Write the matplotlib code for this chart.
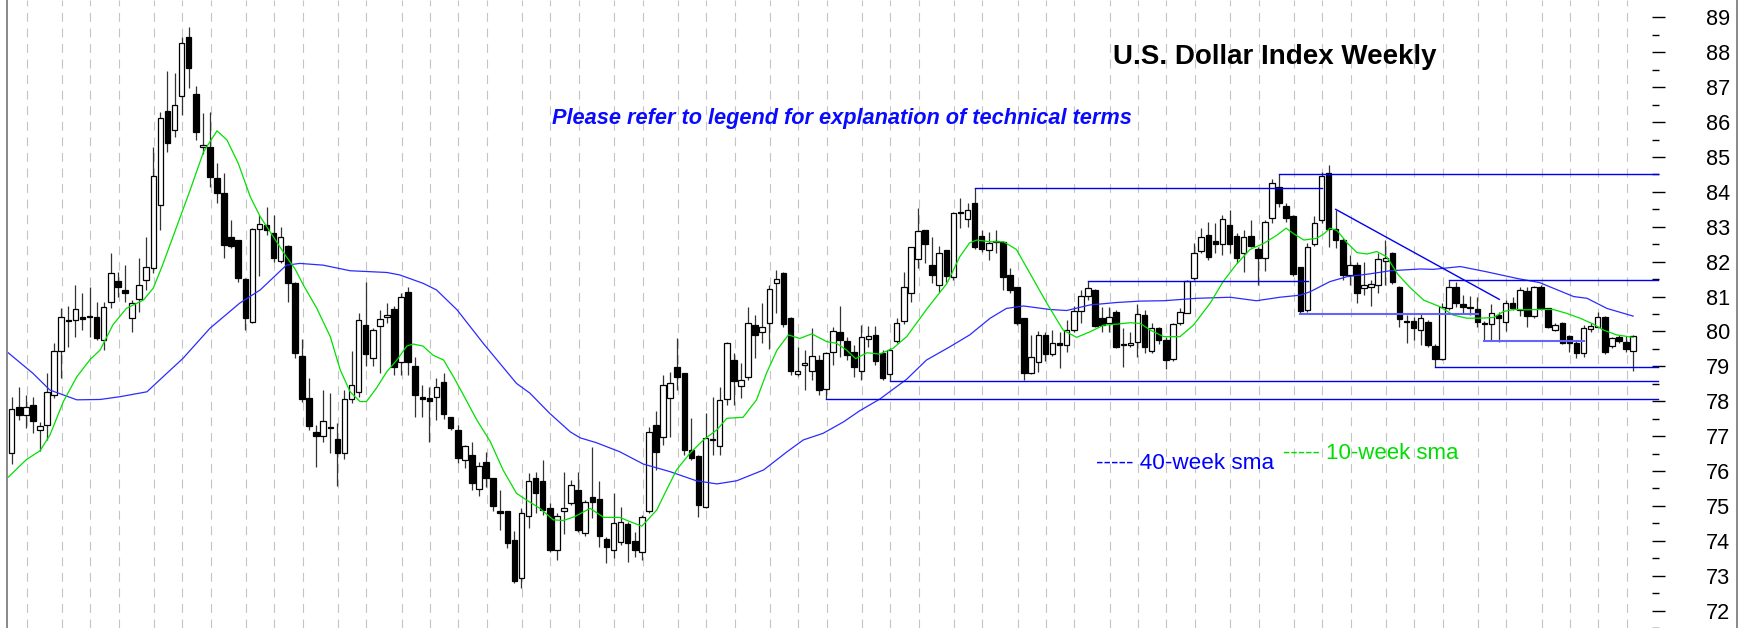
import matplotlib
matplotlib.use("Agg")
import matplotlib.pyplot as plt
import numpy as np
from matplotlib.lines import Line2D

# weekly candles (open, high, low, close)
opens = [76.51, 77.84, 77.61, 77.89, 77.18, 77.32, 78.18, 79.45, 80.33, 80.33,
         80.40, 80.40, 80.40, 79.75, 80.83, 81.45, 81.19, 80.38, 80.93, 81.47,
         81.83, 83.62, 86.33, 85.77, 86.75, 88.43, 86.81, 85.28, 85.30, 84.39,
         83.98, 82.70, 82.62, 81.49, 80.28, 82.93, 83.05, 82.81, 82.03, 82.46,
         81.40, 79.30, 78.08, 77.13, 77.00, 77.25, 76.91, 76.51, 78.06, 78.27,
         80.18, 79.23, 80.16, 80.40, 80.63, 79.13, 81.14, 79.01, 78.11, 78.09,
         78.13, 78.56, 77.54, 77.18, 76.32, 76.46, 75.48, 76.27, 75.79, 74.86,
         74.84, 74.02, 72.92, 74.71, 75.79, 75.70, 74.93, 73.74, 74.86, 75.09,
         75.45, 74.21, 75.26, 75.19, 74.04, 73.75, 73.97, 74.48, 74.00, 73.69,
         74.84, 77.32, 76.98, 78.08, 78.99, 78.80, 76.60, 76.43, 74.98, 76.89,
         76.72, 78.05, 79.18, 78.44, 78.68, 80.18, 79.99, 80.25, 81.38, 81.67,
         80.38, 78.78, 79.04, 78.88, 79.18, 78.34, 79.42, 79.99, 79.73, 79.40,
         78.88, 79.78, 79.90, 79.39, 78.78, 79.74, 80.31, 81.09, 82.07, 82.91,
         81.91, 81.33, 82.33, 81.55, 83.39, 83.21, 83.69, 82.74, 82.33, 82.58,
         82.57, 81.62, 81.28, 80.38, 78.82, 79.13, 79.90, 79.35, 79.66, 79.61,
         80.04, 80.60, 81.02, 81.19, 80.38, 80.23, 80.55, 79.64, 79.61, 79.69,
         80.47, 79.45, 80.09, 79.75, 79.20, 80.23, 80.54, 81.52, 82.31, 82.76,
         82.60, 82.51, 83.05, 82.74, 82.24, 82.74, 82.35, 82.10, 83.24, 84.15,
         83.59, 83.31, 81.84, 80.61, 82.52, 83.18, 84.53, 82.93, 82.62, 81.62,
         81.90, 81.24, 81.28, 81.33, 82.03, 82.24, 81.27, 80.31, 80.31, 80.04,
         80.28, 79.59, 79.20, 80.66, 81.26, 80.80, 80.68, 80.63, 80.24, 80.21,
         80.47, 80.28, 80.82, 80.62, 81.17, 80.44, 81.28, 80.66, 80.04, 80.25,
         79.87, 79.66, 79.39, 80.06, 80.14, 80.42, 79.58, 79.85, 79.71, 79.45]
highs = [78.11, 78.42, 78.18, 78.13, 77.41, 78.80, 79.66, 80.66, 80.73, 81.33,
         81.11, 81.28, 80.85, 80.85, 82.24, 81.71, 81.90, 80.90, 82.10, 82.70,
         85.30, 86.30, 87.47, 87.40, 88.45, 88.74, 87.04, 86.25, 86.30, 84.82,
         84.55, 83.19, 82.62, 81.52, 82.96, 83.35, 83.56, 83.34, 83.00, 82.48,
         81.43, 79.77, 78.66, 77.32, 78.32, 78.23, 77.37, 78.32, 79.45, 80.52,
         81.43, 80.09, 80.62, 80.82, 80.73, 81.09, 81.28, 79.28, 78.47, 78.42,
         78.66, 78.82, 77.56, 77.32, 76.75, 76.84, 76.27, 76.55, 75.81, 75.46,
         74.86, 74.29, 74.93, 75.93, 75.98, 76.32, 75.07, 74.79, 75.98, 75.74,
         75.98, 75.17, 76.70, 75.70, 74.12, 75.36, 74.98, 74.55, 74.26, 74.74,
         77.27, 77.73, 78.75, 78.85, 79.80, 78.80, 77.51, 76.46, 77.65, 78.13,
         78.42, 79.71, 79.37, 79.09, 80.71, 80.47, 80.82, 81.33, 81.76, 81.71,
         80.40, 79.54, 79.47, 80.09, 79.32, 79.42, 80.14, 80.73, 79.85, 79.61,
         80.18, 80.15, 80.16, 79.47, 79.52, 80.38, 81.71, 82.43, 83.53, 82.91,
         82.70, 82.45, 82.33, 83.41, 83.82, 83.67, 84.10, 82.91, 82.86, 82.91,
         82.60, 81.81, 81.28, 80.38, 79.90, 80.00, 79.97, 80.04, 79.99, 80.33,
         80.73, 81.19, 81.45, 81.21, 80.71, 80.71, 80.61, 80.09, 79.99, 80.80,
         80.61, 80.23, 80.14, 79.85, 80.25, 80.66, 81.47, 82.53, 82.96, 83.15,
         83.10, 83.34, 83.48, 82.83, 82.91, 83.19, 82.43, 83.19, 84.36, 84.50,
         83.67, 83.34, 81.86, 82.53, 83.31, 84.58, 84.77, 83.48, 82.67, 82.19,
         82.00, 82.00, 81.47, 82.24, 82.62, 82.29, 81.30, 80.47, 80.42, 80.52,
         80.33, 79.64, 80.81, 81.48, 81.43, 81.04, 81.02, 80.98, 80.30, 80.79,
         80.57, 80.90, 80.99, 81.27, 81.27, 81.30, 81.33, 80.66, 80.24, 80.28,
         79.90, 79.75, 80.18, 80.25, 80.57, 80.44, 79.83, 79.90, 79.87, 79.90]
lows = [76.20, 77.46, 77.22, 77.08, 76.58, 76.89, 78.08, 78.66, 79.56, 79.85,
        80.04, 79.85, 79.75, 79.47, 80.66, 80.99, 80.85, 79.99, 80.57, 81.19,
        81.67, 82.91, 85.15, 85.58, 86.20, 86.97, 85.49, 85.10, 84.15, 83.67,
        82.10, 82.38, 81.43, 80.04, 80.23, 81.60, 82.76, 82.00, 81.95, 80.85,
        79.23, 77.99, 77.17, 76.11, 76.84, 76.51, 75.57, 76.34, 77.95, 78.13,
        79.01, 79.01, 78.80, 80.23, 78.75, 78.75, 78.75, 77.56, 77.56, 76.84,
        77.46, 77.48, 77.17, 76.22, 76.08, 75.46, 75.28, 75.55, 74.86, 74.31,
        73.79, 72.78, 72.64, 74.36, 74.79, 74.74, 73.69, 73.45, 74.19, 75.03,
        74.26, 74.15, 74.64, 73.83, 73.35, 73.50, 73.88, 73.40, 73.54, 73.45,
        74.79, 76.03, 76.74, 76.98, 78.32, 76.46, 76.31, 74.69, 74.93, 76.46,
        76.46, 77.89, 77.89, 78.08, 78.61, 79.23, 79.68, 79.49, 80.52, 80.14,
        78.75, 78.72, 78.32, 78.61, 78.18, 78.06, 79.04, 79.28, 79.18, 78.70,
        78.61, 79.55, 79.04, 78.61, 78.58, 79.66, 80.21, 80.85, 81.81, 81.97,
        81.38, 81.14, 81.43, 81.48, 82.96, 82.98, 82.35, 82.29, 82.05, 82.24,
        81.19, 81.09, 80.18, 78.60, 78.78, 78.85, 79.16, 79.30, 78.94, 79.42,
        79.99, 80.23, 80.90, 80.14, 79.99, 79.99, 79.52, 78.99, 79.56, 79.28,
        79.37, 79.37, 79.64, 78.91, 79.16, 80.18, 80.52, 81.47, 82.24, 82.05,
        82.24, 82.19, 82.24, 81.97, 81.71, 82.43, 81.33, 81.74, 83.12, 83.58,
        83.15, 81.59, 80.50, 80.56, 82.45, 83.12, 82.43, 82.38, 81.47, 81.33,
        80.82, 81.04, 80.74, 81.09, 81.33, 81.36, 80.12, 79.66, 79.76, 79.61,
        79.56, 78.97, 79.18, 80.61, 80.71, 80.52, 80.47, 80.14, 79.74, 79.74,
        79.71, 80.00, 80.61, 80.43, 80.14, 80.38, 80.61, 80.09, 80.00, 79.64,
        79.42, 79.23, 79.28, 79.99, 80.12, 79.35, 79.52, 79.66, 79.42, 78.88]
closes = [77.77, 77.61, 77.84, 77.44, 77.29, 78.25, 79.45, 80.42, 80.30, 80.63,
          80.35, 80.42, 79.80, 80.71, 81.67, 81.26, 81.09, 80.81, 81.33, 81.86,
          84.46, 86.11, 85.39, 86.49, 88.26, 87.54, 85.71, 85.33, 84.44, 83.96,
          82.48, 82.45, 81.52, 80.38, 82.93, 83.07, 82.91, 82.10, 82.70, 81.38,
          79.37, 78.06, 77.29, 77.00, 77.43, 77.24, 76.51, 78.06, 78.47, 80.33,
          79.35, 80.04, 80.35, 80.47, 78.99, 80.99, 79.13, 78.18, 78.06, 78.02,
          78.42, 77.63, 77.24, 76.36, 76.73, 75.67, 76.15, 75.79, 74.99, 74.79,
          73.93, 72.86, 74.79, 75.70, 75.38, 74.88, 73.74, 74.71, 74.93, 75.60,
          74.31, 75.12, 75.12, 74.14, 73.83, 74.52, 74.55, 73.95, 73.74, 74.69,
          77.13, 76.55, 78.46, 78.51, 78.70, 76.60, 76.36, 75.03, 76.94, 76.91,
          78.04, 79.66, 78.59, 78.61, 80.23, 79.90, 80.14, 81.23, 81.49, 80.21,
          78.88, 78.88, 79.09, 79.30, 78.32, 79.37, 80.02, 79.76, 79.33, 78.97,
          79.85, 79.86, 79.16, 78.66, 79.47, 80.23, 81.28, 82.41, 82.89, 82.51,
          81.62, 82.24, 81.59, 83.39, 83.40, 83.48, 82.43, 82.35, 82.54, 82.57,
          81.57, 81.19, 80.23, 78.82, 79.28, 79.90, 79.35, 79.66, 79.61, 80.04,
          80.60, 81.02, 81.24, 80.16, 80.19, 80.40, 79.54, 79.61, 79.68, 80.50,
          79.54, 80.09, 79.75, 79.18, 80.20, 80.57, 81.45, 82.26, 82.70, 82.12,
          82.52, 83.21, 82.51, 82.10, 82.72, 82.45, 82.10, 83.15, 84.25, 83.69,
          83.24, 81.65, 80.60, 82.41, 83.12, 84.45, 82.95, 82.62, 81.62, 81.90,
          81.11, 81.33, 81.35, 82.08, 82.10, 81.43, 80.36, 80.26, 80.11, 80.38,
          79.61, 79.20, 80.71, 81.26, 80.82, 80.69, 80.70, 80.28, 80.22, 80.54,
          80.38, 80.82, 80.66, 81.19, 80.44, 81.28, 80.66, 80.14, 80.19, 79.68,
          79.66, 79.39, 80.09, 80.16, 80.41, 79.42, 79.80, 79.74, 79.49, 79.87]

# 40-week simple moving average (week index, value)
sma40_week = [-0.5, 3.0, 5.4, 9.2, 12.5, 15.3, 19.1, 20.9, 24.2, 28.0, 32.2, 35.1,
              38.8, 40.7, 44.0, 47.8, 53.0, 54.8, 58.1, 60.0, 62.9, 66.6, 71.3,
              73.2, 76.0, 78.9, 80.3, 82.6, 85.9, 89.2, 93.0, 96.7, 99.6, 102.4,
              106.2, 109.5, 111.8, 114.6, 117.5, 119.8, 122.6, 126.4, 129.2, 132.5,
              135.3, 138.2, 140.5, 142.9, 146.6, 149.0, 152.3, 156.1, 159.4, 162.7,
              167.4, 172.1, 175.8, 179.1, 182.0, 183.4, 186.2, 188.6, 191.8, 194.7,
              198.9, 200.8, 204.6, 208.3, 212.6, 215.8, 220.6, 222.5, 225.3, 229.0]
sma40_val = [79.39, 78.80, 78.32, 78.04, 78.05, 78.13, 78.27, 78.61, 79.23, 80.09,
             80.81, 81.19, 81.90, 81.95, 81.90, 81.74, 81.69, 81.62, 81.38, 81.19,
             80.62, 79.66, 78.51, 78.23, 77.65, 77.12, 76.95, 76.81, 76.55, 76.20,
             75.98, 75.72, 75.63, 75.72, 76.03, 76.55, 76.89, 77.08, 77.41, 77.73,
             78.06, 78.63, 79.18, 79.56, 79.90, 80.38, 80.66, 80.73, 80.63, 80.60,
             80.76, 80.83, 80.87, 80.88, 80.95, 80.98, 80.88, 80.98, 81.04, 81.14,
             81.43, 81.57, 81.65, 81.74, 81.79, 81.78, 81.86, 81.71, 81.52, 81.40,
             81.00, 80.95, 80.66, 80.44]

# 10-week simple moving average (week index, value)
sma10_week = [-0.5, 2.1, 4.0, 5.4, 7.3, 9.2, 11.1, 12.5, 14.3, 16.2, 18.6, 20.0,
              21.4, 23.3, 25.2, 27.1, 29.0, 30.4, 32.0, 33.7, 35.1, 37.0, 38.8,
              40.0, 41.2, 43.1, 45.0, 46.4, 47.8, 49.2, 50.1, 51.5, 53.0, 54.4,
              55.8, 56.7, 58.1, 59.5, 61.0, 62.4, 63.8, 65.7, 67.6, 69.4, 71.3,
              72.7, 74.6, 76.5, 77.9, 79.5, 81.7, 83.6, 85.9, 87.3, 89.0, 91.1,
              92.5, 93.9, 95.8, 97.7, 99.6, 101.0, 103.3, 105.2, 106.6, 108.1,
              109.7, 111.3, 113.0, 115.1, 116.5, 117.9, 119.2, 120.8, 122.6, 124.5,
              126.4, 129.2, 132.1, 133.9, 135.3, 136.3, 138.2, 140.1, 141.9, 143.8,
              146.2, 148.5, 150.4, 152.3, 154.2, 156.1, 158.0, 159.4, 160.8, 162.7,
              165.0, 166.9, 169.3, 171.1, 173.0, 174.9, 176.8, 178.7, 180.0, 181.0,
              182.5, 184.3, 185.3, 186.2, 187.2, 188.6, 190.0, 191.4, 192.8, 194.2,
              195.8, 197.5, 199.4, 201.7, 203.6, 205.5, 207.4, 209.3, 210.7, 212.1,
              214.0, 215.8, 217.7, 219.6, 221.5, 223.4, 224.8, 226.7, 229.0]
sma10_val = [75.82, 76.33, 76.58, 77.03, 77.99, 78.70, 79.20, 79.47, 80.19, 80.66,
             80.90, 81.24, 81.95, 83.00, 84.05, 85.15, 85.75, 85.49, 84.82, 83.86,
             83.29, 82.70, 82.14, 81.80, 81.33, 80.66, 79.85, 78.90, 78.27, 77.99,
             77.99, 78.37, 78.85, 79.18, 79.58, 79.64, 79.58, 79.32, 79.18, 78.70,
             78.18, 77.46, 76.84, 76.03, 75.36, 75.17, 74.93, 74.60, 74.58, 74.69,
             74.93, 74.67, 74.67, 74.55, 74.42, 74.88, 75.46, 76.03, 76.51, 76.89,
             77.18, 77.51, 77.54, 78.04, 78.80, 79.47, 79.90, 79.80, 79.93, 79.71,
             79.66, 79.47, 79.22, 79.39, 79.35, 79.52, 79.85, 80.63, 81.38, 82.14,
             82.54, 82.62, 82.57, 82.57, 82.35, 81.67, 80.81, 80.04, 79.83, 79.99,
             80.18, 80.21, 80.25, 80.23, 80.04, 79.85, 79.85, 80.18, 80.82, 81.43,
             81.93, 82.35, 82.52, 82.76, 82.96, 82.81, 82.62, 82.67, 82.79, 82.96,
             82.89, 82.54, 82.26, 82.22, 82.29, 82.14, 81.63, 81.26, 80.90, 80.71,
             80.47, 80.38, 80.38, 80.40, 80.57, 80.63, 80.62, 80.63, 80.63, 80.52,
             80.38, 80.21, 80.04, 79.90, 79.83]

# support / resistance lines: level, first week, last week (None = to the axis)
level_val = [84.10, 84.50, 81.45, 81.48, 78.97, 78.58, 78.06]
level_from = [136, 179, 152, 203, 201, 124, 115]
level_to = [185.1, None, 183.1, None, None, None, None]
# short-term range lines (lighter)
range_val = [80.50, 79.74]
range_from = [182, 208]
range_to = [207.1, 222.1]
# falling trend line
trend_week = [187, 210.1]
trend_val = [83.50, 80.92]

# first week of each month (dashed grid)
month_weeks = [2, 7, 11, 15, 20, 24, 28, 33, 37, 41, 46, 50, 55, 59, 63, 67, 72,
               76, 80, 85, 89, 94, 98, 102, 107, 111, 115, 120, 124, 128, 133, 137,
               142, 146, 150, 155, 159, 163, 167, 172, 176, 181, 185, 189, 194, 198,
               202, 207, 211, 216, 220, 224, 228]

y_ticks = list(range(72, 90))

FONT = ["Liberation Sans", "DejaVu Sans"]
plt.rcParams["font.family"] = FONT

W, H = 1739, 628
fig = plt.figure(figsize=(W / 100, H / 100), dpi=100)
ax = fig.add_axes([7 / W, 0, (1652 - 7) / W, 1])
ax.set_xlim(-0.66, 231.67)
ax.set_ylim(71.5, 89.5)
right_end = 232.5

for m in month_weeks:
    ax.axvline(m + 0.1, color="#c4c4c4", lw=0.8, ls=(0, (8, 6)), zorder=1)

o = np.array(opens)
h = np.array(highs)
l = np.array(lows)
c = np.array(closes)
weeks = np.arange(len(o))
up = c >= o
ax.vlines(weeks, l, h, color="#333333", lw=0.9, zorder=3)
ax.bar(weeks, np.maximum(np.abs(c - o), 0.03), bottom=np.minimum(o, c), width=0.78,
       color=np.where(up, "white", "black"), edgecolor="black", linewidth=0.9, zorder=4)

ax.plot(sma40_week, sma40_val, color="#2b2bff", lw=0.9, zorder=5)
ax.plot(sma10_week, sma10_val, color="#00e000", lw=0.9, zorder=5)

for v, a, b in zip(level_val, level_from, level_to):
    ax.plot([a, right_end if b is None else b], [v, v], color="#0000ee", lw=1.0,
            zorder=6, clip_on=False)
for v, a, b in zip(range_val, range_from, range_to):
    ax.plot([a, b], [v, v], color="#6464ff", lw=1.5, zorder=6)
ax.plot(trend_week, trend_val, color="#0000ee", lw=1.0, zorder=6)

for s in ax.spines.values():
    s.set_visible(False)
ax.set_xticks([])
ax.yaxis.tick_right()
ax.set_yticks(y_ticks)
ax.set_yticklabels([str(t) for t in y_ticks])
ax.set_yticks([t + 0.5 for t in y_ticks[:-1]] + [71.5 + 0.0001], minor=True)
ax.tick_params(axis="y", which="major", length=9.5, width=1.0, pad=29.5,
               labelsize=15.6, colors="black")
ax.tick_params(axis="y", which="minor", length=4.8, width=1.0)

fig.text(1275 / W, 1 - 64 / H, "U.S. Dollar Index Weekly", ha="center",
         va="baseline", fontsize=20, fontweight="bold")
fig.text(552 / W, 1 - 124 / H,
         "Please refer to legend for explanation of technical terms",
         ha="left", va="baseline", fontsize=15.7, fontweight="bold",
         style="italic", color="#0a0aff")
fig.text(1096 / W, 1 - 469 / H, "----- 40-week sma", ha="left", va="baseline",
         fontsize=16.2, color="#0000ff")
fig.text(1283 / W, 1 - 459 / H, "----- 10-week sma", ha="left", va="baseline",
         fontsize=16.0, color="#00dd00")

fig.add_artist(Line2D([7 / W, 7 / W], [0, 1], color="#888888", lw=1.4))
fig.add_artist(Line2D([1737 / W, 1737 / W], [0, 1], color="#888888", lw=1.4))

fig.savefig("out.png", dpi=100)
